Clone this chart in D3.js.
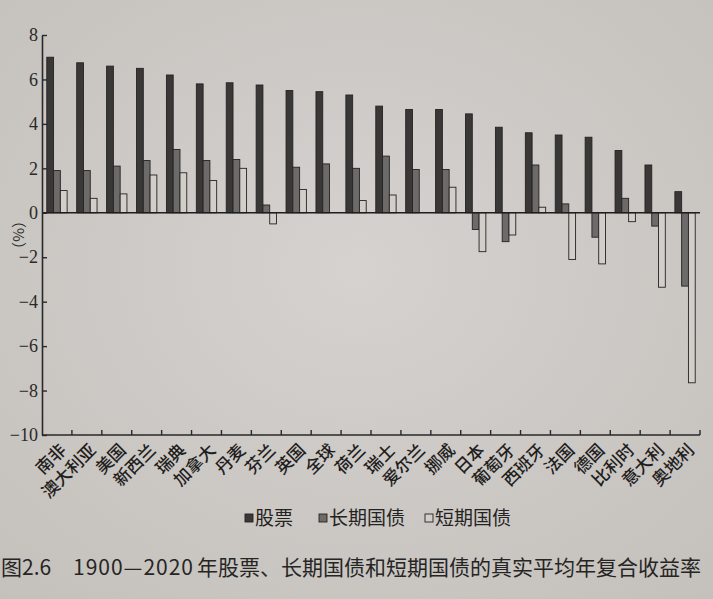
<!DOCTYPE html>
<html>
<head>
<meta charset="utf-8">
<script src="https://cdn.jsdelivr.net/npm/d3@7"></script>
<style>
  html, body { margin: 0; padding: 0; background: #cdc9c6; }
  svg { display: block; }
</style>
</head>
<body>
<div id="chart"></div>
<script>
var categories = ["南非", "澳大利亚", "美国", "新西兰", "瑞典", "加拿大", "丹麦", "芬兰",
  "英国", "全球", "荷兰", "瑞士", "爱尔兰", "挪威", "日本", "葡萄牙", "西班牙",
  "法国", "德国", "比利时", "意大利", "奥地利"];
var stocks = [7.0, 6.75, 6.6, 6.5, 6.2, 5.8, 5.85, 5.75, 5.5, 5.45, 5.3, 4.8, 4.65, 4.65,
  4.45, 3.85, 3.6, 3.5, 3.4, 2.8, 2.15, 0.95];
var longBonds = [1.9, 1.9, 2.1, 2.35, 2.85, 2.35, 2.4, 0.35, 2.05, 2.2, 2.0, 2.55, 1.95, 1.95,
  -0.75, -1.3, 2.15, 0.4, -1.1, 0.65, -0.6, -3.3];
var shortBills = [1.0, 0.65, 0.85, 1.7, 1.8, 1.45, 2.0, -0.5, 1.05, null, 0.55, 0.8, null, 1.15,
  -1.75, -1.0, 0.25, -2.1, -2.3, -0.4, -3.35, -7.65];
var seriesNames = ["股票", "长期国债", "短期国债"];
var yTicks = [8, 6, 4, 2, 0, -2, -4, -6, -8, -10];

var width = 713,
  height = 599,
  margin = {top: 35, right: 13, bottom: 164, left: 42};

var colors = ["#3a3837", "#6d6b69", "#d2cfcb"];
var serif = "'Liberation Serif', 'DejaVu Serif', serif",
  cjk = "'Noto Sans CJK SC', sans-serif";

var svg = d3.select("#chart").append("svg")
  .attr("width", width)
  .attr("height", height);

// paper shading, a bit lighter in the middle
var grad = svg.append("defs").append("radialGradient")
  .attr("id", "paper")
  .attr("cx", "50%").attr("cy", "45%").attr("r", "75%");
grad.append("stop").attr("offset", "0%").attr("stop-color", "#d5d2cf");
grad.append("stop").attr("offset", "100%").attr("stop-color", "#c4c0bc");
svg.append("rect")
  .attr("width", width)
  .attr("height", height)
  .attr("fill", "url(#paper)");

var x0 = d3.scaleBand()
  .domain(categories)
  .range([margin.left, width - margin.right])
  .paddingInner(0.32)
  .paddingOuter(0.16);

var x1 = d3.scaleBand()
  .domain(d3.range(seriesNames.length))
  .range([0, x0.bandwidth()]);

var y = d3.scaleLinear()
  .domain([-10, 8])
  .range([height - margin.bottom, margin.top]);

var rows = categories.map(function (c, i) {
  return {cat: c, values: [stocks[i], longBonds[i], shortBills[i]]};
});

// bars
var group = svg.selectAll("g.cat")
  .data(rows)
  .enter().append("g")
  .attr("class", "cat")
  .attr("transform", function (d) { return "translate(" + x0(d.cat) + ",0)"; });

group.selectAll("rect")
  .data(function (d) {
    return d.values.map(function (v, s) { return {s: s, v: v}; })
      .filter(function (e) { return e.v != null; });
  })
  .enter().append("rect")
  .attr("x", function (d) { return x1(d.s); })
  .attr("y", function (d) { return y(Math.max(0, d.v)); })
  .attr("width", x1.bandwidth())
  .attr("height", function (d) { return Math.abs(y(d.v) - y(0)); })
  .attr("fill", function (d) { return colors[d.s]; })
  .attr("stroke", "#242322")
  .attr("stroke-width", 0.9);

// zero line
svg.append("line")
  .attr("x1", margin.left)
  .attr("x2", width - margin.right)
  .attr("y1", y(0))
  .attr("y2", y(0))
  .attr("stroke", "#1f1e1d")
  .attr("stroke-width", 1.6);

// y axis, ticks inside
var yAxis = svg.append("g")
  .attr("transform", "translate(" + margin.left + ",0)")
  .call(d3.axisLeft(y).tickValues(yTicks).tickSize(-5).tickSizeOuter(0).tickPadding(4)
    .tickFormat(d3.format("d")))
  .attr("font-family", serif)
  .attr("font-size", 18);
yAxis.select(".domain").attr("stroke", "#2a2928").attr("stroke-width", 1.6);
yAxis.selectAll(".tick line").attr("stroke", "#2a2928").attr("stroke-width", 1.4);
yAxis.selectAll(".tick text").attr("fill", "#2a2928");

svg.append("text")
  .attr("transform", "translate(13," + y(-1) + ") rotate(90)")
  .attr("text-anchor", "middle")
  .attr("fill", "#2a2928")
  .style("font-family", cjk)
  .style("font-size", "15px")
  .text("（%）");

// bottom axis with boundary ticks
var yBottom = y(-10);
svg.append("line")
  .attr("x1", margin.left)
  .attr("x2", width - margin.right)
  .attr("y1", yBottom)
  .attr("y2", yBottom)
  .attr("stroke", "#2a2928")
  .attr("stroke-width", 1.6);

function boundary(c) {
  return x0(c) + x0.bandwidth() + x0.step() * x0.paddingInner() / 2;
}

svg.selectAll("line.xtick")
  .data(categories)
  .enter().append("line")
  .attr("class", "xtick")
  .attr("x1", boundary)
  .attr("x2", boundary)
  .attr("y1", yBottom)
  .attr("y2", yBottom - 5)
  .attr("stroke", "#2a2928")
  .attr("stroke-width", 1.4);

svg.selectAll("text.xlabel")
  .data(categories)
  .enter().append("text")
  .attr("class", "xlabel")
  .attr("transform", function (c) {
    return "translate(" + (x0(c) + x0.bandwidth() / 2 + 6) + "," + (yBottom + 12) + ") rotate(-45)";
  })
  .attr("text-anchor", "end")
  .attr("dy", "0.35em")
  .attr("fill", "#1f1e1d")
  .style("font-family", cjk)
  .style("font-size", "17px")
  .style("font-weight", 500)
  .text(function (c) { return c; });

// legend
var legendX = [245, 319, 425];
var legend = svg.selectAll("g.legend")
  .data(seriesNames)
  .enter().append("g")
  .attr("class", "legend")
  .attr("transform", function (d, i) { return "translate(" + legendX[i] + ",518)"; });

legend.append("rect")
  .attr("x", 0)
  .attr("y", -4)
  .attr("width", 8)
  .attr("height", 8)
  .attr("fill", function (d, i) { return colors[i]; })
  .attr("stroke", "#242322")
  .attr("stroke-width", 0.9);

legend.append("text")
  .attr("x", 10)
  .attr("dy", "0.36em")
  .attr("fill", "#242322")
  .style("font-family", cjk)
  .style("font-size", "19px")
  .text(function (d) { return d; });

// caption
var caption = svg.append("text")
  .attr("y", 575)
  .attr("fill", "#262524")
  .style("font-family", cjk)
  .style("font-size", "21px");
caption.append("tspan").attr("x", 1).text("图2.6");
caption.append("tspan").attr("x", 73)
  .attr("textLength", 120)
  .attr("lengthAdjust", "spacing")
  .text("1900—2020");
caption.append("tspan").attr("x", 197).text("年股票、长期国债和短期国债的真实平均年复合收益率");
</script>
</body>
</html>
